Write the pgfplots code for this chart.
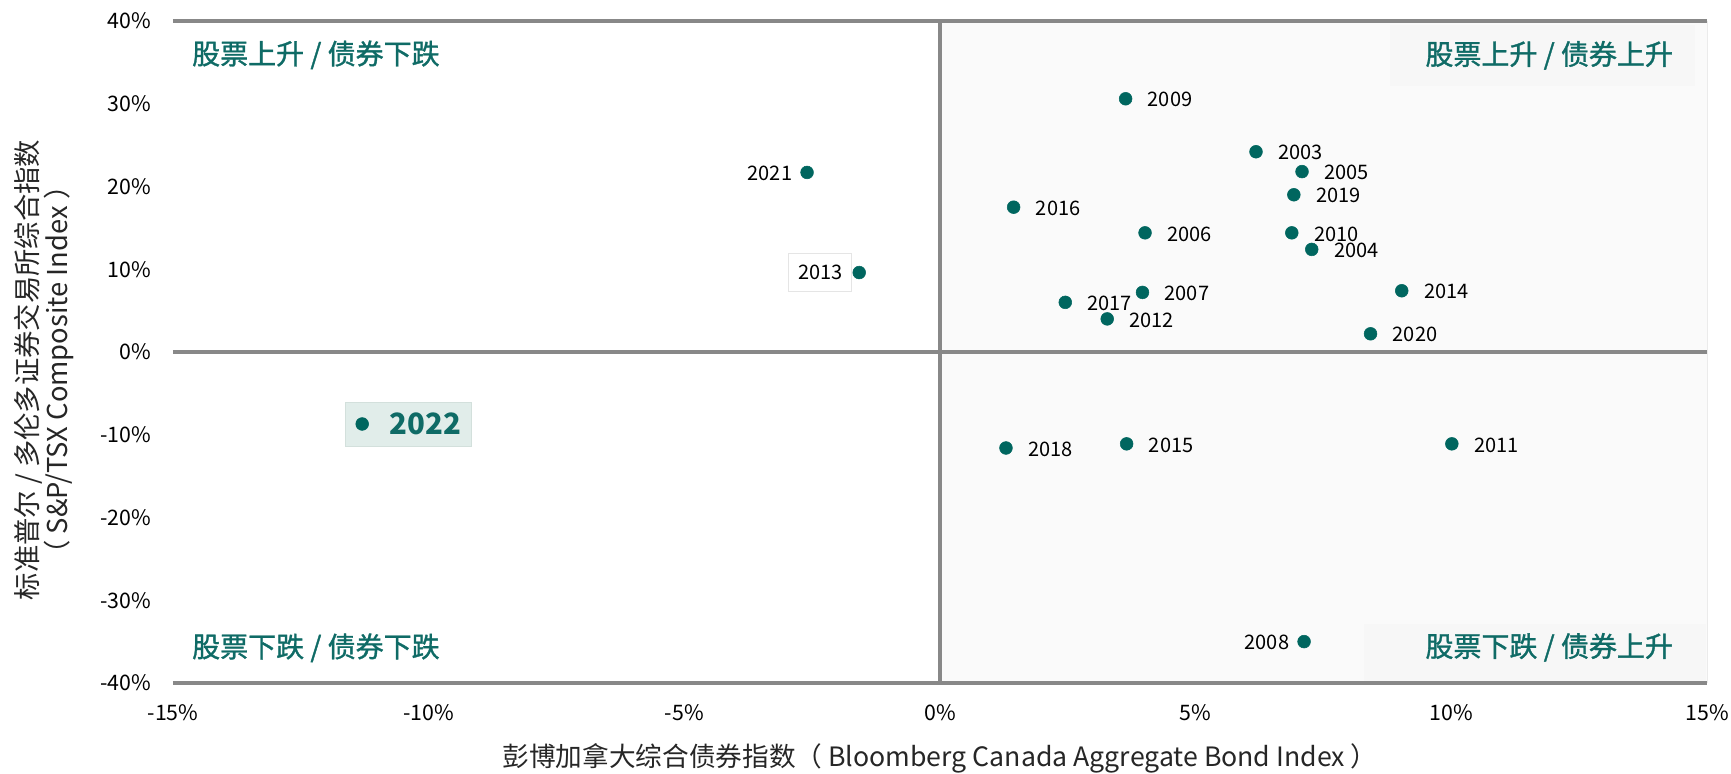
\documentclass[border=0pt]{standalone}
\usepackage{fontspec}
\setmainfont{Noto Sans CJK SC}
\newfontfamily\qfont{Noto Sans CJK SC}[FakeBold=1.2]
\usepackage{pgfplots}
\pgfplotsset{compat=1.18}
\usepackage{pgfplotstable}
\definecolor{dotc}{HTML}{00665F}
\definecolor{qtext}{HTML}{0F6B66}
\definecolor{axgray}{HTML}{888888}
\definecolor{bgshade}{HTML}{FAFAFA}
\definecolor{qbox}{HTML}{F7F7F7}
\definecolor{boxfill}{HTML}{E1EDEA}
\definecolor{boxline}{HTML}{D3E0DC}
\newcommand{\ticksize}{\fontsize{16pt}{19pt}\selectfont}
\newcommand{\yrsize}{\fontsize{15pt}{18pt}\selectfont}
\newcommand{\qsize}{\fontsize{21pt}{24pt}\selectfont}
\newcommand{\titlesize}{\fontsize{20pt}{22pt}\selectfont}

\pgfplotstableread{
x y label
3.63 30.6 2009
6.18 24.2 2003
7.08 21.8 2005
6.92 19.0 2019
1.44 17.5 2016
4.01 14.4 2006
6.88 14.4 2010
7.27 12.4 2004
9.03 7.4 2014
3.96 7.2 2007
2.45 6.0 2017
3.27 4.0 2012
8.42 2.2 2020
1.29 -11.6 2018
3.65 -11.1 2015
10.01 -11.1 2011
}\rightpts
\pgfplotstableread{
x y label
-2.60 21.7 2021
7.12 -35.0 2008
}\leftpts
\pgfplotstableread{
x y label
-1.58 9.6 2013
}\boxedpt
\pgfplotstableread{
x y label
-11.30 -8.7 2022
}\highpt

\begin{document}
\begin{tikzpicture}
\useasboundingbox (-129.75pt,-68.25pt) rectangle (1168.5pt,512.25pt);
\begin{axis}[
  at={(0pt,0pt)}, anchor=south west,
  scale only axis, width=1150.5pt, height=496.5pt,
  xmin=-15, xmax=15, ymin=-40, ymax=40,
  clip=false,
  axis line style={draw=none},
  major tick length=0pt,
  tick style={draw=none},
  xtick={-15,-10,-5,0,5,10,15},
  xticklabels={-15\%,-10\%,-5\%,0\%,5\%,10\%,15\%},
  ytick={-40,-30,-20,-10,0,10,20,30,40},
  yticklabels={-40\%,-30\%,-20\%,-10\%,0\%,10\%,20\%,30\%,40\%},
  tick label style={font=\ticksize, text=black},
  xticklabel style={yshift=-13pt},
  yticklabel style={xshift=-13pt},
  xlabel={彭博加拿大综合债券指数（ Bloomberg Canada Aggregate Bond Index ）},
  ylabel={标准普尔 / 多伦多证券交易所综合指数\\（ S\&P/TSX Composite Index ）},
  xlabel style={at={(axis description cs:0.5,-0.1133)}, anchor=center, font=\titlesize, text=black!85},
  ylabel style={at={(axis description cs:-0.0841,0.4728)}, anchor=center, align=center, font=\fontsize{20.5pt}{20pt}\selectfont, text=black!85},
]
% right half background
\fill[bgshade] (axis cs:0,-40) rectangle (axis cs:15,40);
\draw[black!8, line width=0.6pt] (axis cs:15,-40) -- (axis cs:15,40);
% subtle label boxes
\fill[qbox] (axis cs:8.80,39.5) rectangle (axis cs:14.77,32.2);
\fill[qbox] (axis cs:8.29,-32.9) rectangle (axis cs:14.98,-39.7);
% axis lines
\draw[axgray, line width=3pt] (axis cs:-15,40) -- (axis cs:15,40);
\draw[axgray, line width=3pt] (axis cs:-15,-40) -- (axis cs:15,-40);
\draw[axgray, line width=3pt] (axis cs:-15,0) -- (axis cs:15,0);
\draw[axgray, line width=3pt] (axis cs:0,-40) -- (axis cs:0,40);
% quadrant labels
\node[anchor=west, text=qtext, font=\qsize\qfont, inner sep=0pt] at (axis cs:-14.63,35.9) {股票上升 / 债券下跌};
\node[anchor=east, text=qtext, font=\qsize\qfont, inner sep=0pt] at (axis cs:14.34,35.85) {股票上升 / 债券上升};
\node[anchor=west, text=qtext, font=\qsize\qfont, inner sep=0pt] at (axis cs:-14.63,-35.75) {股票下跌 / 债券下跌};
\node[anchor=east, text=qtext, font=\qsize\qfont, inner sep=0pt] at (axis cs:14.34,-35.7) {股票下跌 / 债券上升};

% 2022 highlight box (drawn first, under the dot)
\addplot[only marks, mark=none, nodes near coords={\hspace{25.5pt}\pgfplotspointmeta}, point meta=explicit symbolic,
  every node near coord/.append style={anchor=west, xshift=-12.75pt, inner xsep=7.5pt, inner ysep=0pt, minimum height=33pt,
    fill=boxfill, draw=boxline, line width=0.6pt, text=qtext, font=\fontsize{22pt}{24pt}\selectfont\bfseries}]
  table[x=x, y=y, meta=label] {\highpt};
% 2013 boxed label
\addplot[only marks, mark=none, nodes near coords, point meta=explicit symbolic,
  every node near coord/.append style={anchor=east, xshift=-5.25pt, inner xsep=7pt, inner ysep=0pt, minimum height=29pt,
    fill=white, draw=black!10, line width=0.6pt, text=black, font=\yrsize}]
  table[x=x, y=y, meta=label] {\boxedpt};

% dots with labels on the right
\addplot[only marks, mark=*, mark size=4.8pt, color=dotc, nodes near coords, point meta=explicit symbolic,
  every node near coord/.append style={anchor=west, xshift=16.5pt, yshift=-0.8pt, inner sep=0pt, text=black, font=\yrsize}]
  table[x=x, y=y, meta=label] {\rightpts};
% dots with labels on the left
\addplot[only marks, mark=*, mark size=4.8pt, color=dotc, nodes near coords, point meta=explicit symbolic,
  every node near coord/.append style={anchor=east, xshift=-11pt, yshift=-0.8pt, inner sep=0pt, text=black, font=\yrsize}]
  table[x=x, y=y, meta=label] {\leftpts};
% dots for boxed points
\addplot[only marks, mark=*, mark size=4.8pt, color=dotc] table[x=x, y=y] {\boxedpt};
\addplot[only marks, mark=*, mark size=4.8pt, color=dotc] table[x=x, y=y] {\highpt};
\end{axis}
\end{tikzpicture}
\end{document}
